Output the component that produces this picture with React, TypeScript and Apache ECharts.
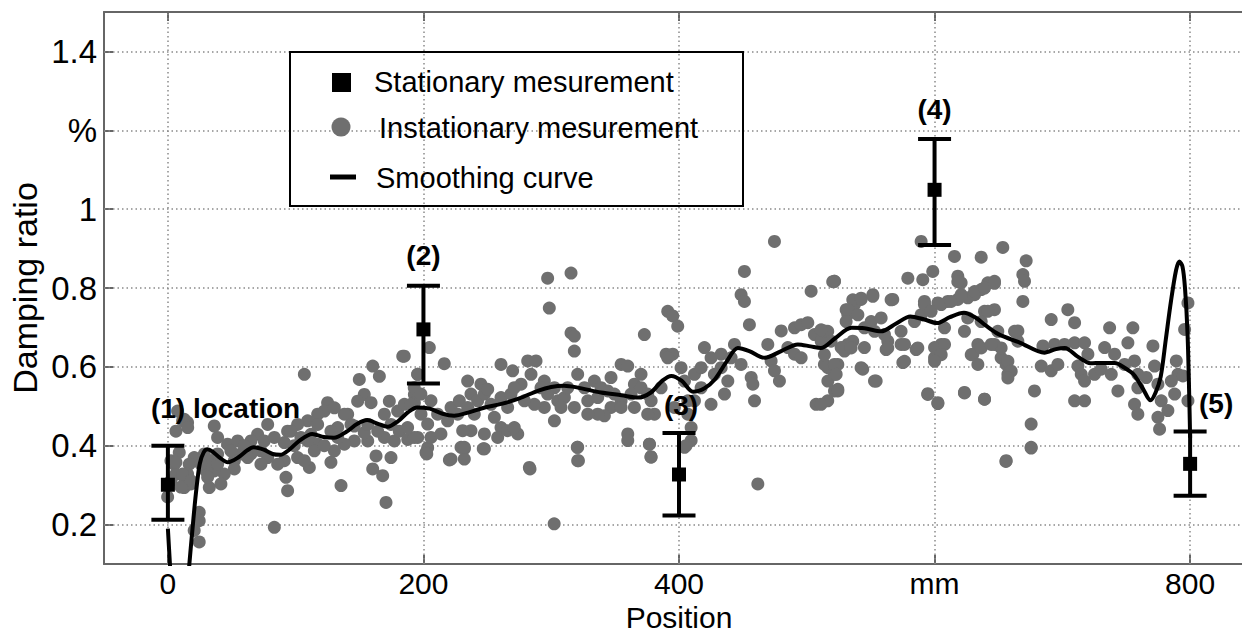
import React, { useEffect, useRef } from 'react';
import * as echarts from 'echarts';

const xTickValues = [0, 200, 400, 600, 800];
const xTickLabels = ['0', '200', '400', 'mm', '800'];
const yTickValues = [0.2, 0.4, 0.6, 0.8, 1.0, 1.2, 1.4];
const yTickLabels = ['0.2', '0.4', '0.6', '0.8', '1', '%', '1.4'];

const legendLabels = ['Stationary mesurement', 'Instationary mesurement', 'Smoothing curve'];

// Stationary measurements with error bars
const stationX = [0, 200, 400, 600, 800];
const stationMean = [0.301, 0.695, 0.327, 1.049, 0.354];
const stationLow = [0.212, 0.558, 0.223, 0.909, 0.273];
const stationHigh = [0.4, 0.806, 0.432, 1.178, 0.436];
const stationLabels = ['(1) location', '(2)', '(3)', '(4)', '(5)'];

// Instationary measurements [position, damping ratio]
const instationaryPoints: [number, number][] = [
  [183.8,0.627],[160.3,0.602],[165.5,0.576],[106.8,0.581],[149.8,0.568],[195.5,0.581],[153.7,0.530],[159.0,0.509],
  [173.3,0.513],[192.9,0.530],[192.9,0.509],[125.0,0.509],[122.4,0.488],[140.7,0.480],[148.5,0.513],[143.3,0.454],
  [132.9,0.446],[127.6,0.437],[117.2,0.480],[109.4,0.463],[101.5,0.454],[93.7,0.437],[112.0,0.429],[117.2,0.404],
  [109.4,0.412],[114.6,0.387],[127.6,0.358],[110.7,0.345],[135.5,0.299],[92.4,0.320],[93.7,0.286],[160.3,0.341],
  [168.1,0.324],[162.9,0.374],[170.7,0.256],[83.3,0.193],[177.2,0.412],[181.1,0.437],[187.7,0.416],[195.5,0.421],
  [203.3,0.395],[174.6,0.454],[169.4,0.480],[179.8,0.488],[185.1,0.505],[169.4,0.421],[156.4,0.412],[153.7,0.433],
  [145.9,0.412],[138.1,0.404],[132.9,0.421],[130.3,0.387],[122.4,0.400],[98.9,0.400],[91.1,0.408],[78.1,0.454],
  [70.2,0.429],[65.0,0.412],[72.8,0.387],[65.0,0.379],[57.2,0.379],[52.0,0.362],[46.7,0.404],[54.6,0.412],
  [38.9,0.421],[36.3,0.450],[52.0,0.341],[44.1,0.328],[41.5,0.303],[32.4,0.294],[36.3,0.336],[29.8,0.336],
  [33.7,0.362],[28.5,0.379],[20.6,0.370],[16.7,0.353],[12.8,0.320],[12.8,0.294],[18.0,0.303],[15.4,0.328],
  [5.0,0.353],[6.3,0.328],[2.4,0.311],[2.4,0.362],[6.3,0.437],[12.8,0.467],[15.4,0.459],[24.5,0.231],
  [24.5,0.210],[20.6,0.185],[24.5,0.156],[91.1,0.362],[85.9,0.353],[78.1,0.370],[101.5,0.370],[106.8,0.362],
  [38.9,0.353],[49.3,0.387],[59.8,0.400],[75.4,0.412],[83.3,0.421],[96.3,0.437],[117.2,0.454],[138.1,0.480],
  [145.9,0.450],[164.2,0.437],[174.6,0.370],[156.4,0.454],[130.3,0.496],[104.1,0.421],[72.8,0.353],[62.4,0.370],
  [38.9,0.379],[31.1,0.320],[25.9,0.353],[8.9,0.383],[-0.2,0.270],[7.6,0.488],[11.5,0.463],[15.5,0.446],
  [6.3,0.358],[11.5,0.328],[18.1,0.311],[10.2,0.295],
  [185.0,0.627],[204.6,0.649],[216.3,0.608],[195.5,0.581],[192.8,0.547],[205.9,0.514],[190.2,0.505],[198.1,0.480],
  [203.3,0.455],[192.8,0.421],[205.9,0.421],[202.0,0.383],[218.9,0.463],[221.6,0.497],[228.1,0.514],[234.6,0.564],
  [245.0,0.556],[237.2,0.531],[242.4,0.514],[247.7,0.531],[252.9,0.505],[260.7,0.522],[250.3,0.543],[260.7,0.606],
  [269.8,0.590],[281.6,0.615],[288.1,0.615],[284.2,0.581],[276.4,0.556],[268.5,0.531],[265.9,0.497],[255.5,0.472],
  [260.7,0.446],[247.7,0.430],[237.2,0.438],[230.7,0.438],[229.4,0.396],[232.0,0.392],[221.6,0.366],[247.7,0.392],
  [258.1,0.421],[265.9,0.438],[273.8,0.430],[271.1,0.446],[282.9,0.345],[297.2,0.825],[315.5,0.838],[298.5,0.749],
  [315.5,0.686],[318.1,0.678],[318.1,0.640],[294.6,0.564],[302.5,0.547],[297.2,0.531],[305.1,0.514],[310.3,0.522],
  [307.7,0.497],[294.6,0.497],[286.8,0.505],[302.5,0.463],[320.7,0.581],[326.0,0.547],[333.8,0.564],[328.6,0.514],
  [336.4,0.522],[339.0,0.547],[346.8,0.573],[344.2,0.539],[349.4,0.531],[354.7,0.514],[354.7,0.606],[359.9,0.602],
  [365.1,0.556],[370.3,0.547],[362.5,0.531],[346.8,0.497],[341.6,0.476],[354.7,0.497],[336.4,0.480],[359.9,0.430],
  [359.9,0.413],[320.7,0.396],[320.7,0.362],[372.9,0.682],[376.8,0.404],[378.2,0.371],[380.8,0.480],[378.2,0.514],
  [386.0,0.547],[389.9,0.632],[395.1,0.632],[391.2,0.741],[395.1,0.729],[399.0,0.703],[401.6,0.598],[404.3,0.564],
  [406.9,0.514],[406.9,0.480],[409.5,0.446],[409.5,0.413],[404.3,0.396],[412.1,0.581],[417.3,0.547],[425.1,0.505],
  [419.9,0.649],[425.1,0.623],[433.0,0.632],[435.6,0.531],[433.0,0.598],[443.4,0.657],[440.8,0.623],[448.6,0.606],
  [451.2,0.842],[448.6,0.783],[451.2,0.766],[455.1,0.707],[456.5,0.573],[457.8,0.556],[459.1,0.514],[461.7,0.303],
  [469.5,0.657],[472.1,0.615],[474.7,0.590],[478.6,0.564],[474.7,0.918],[480.0,0.691],[485.2,0.649],[490.4,0.699],
  [495.6,0.707],[500.8,0.712],[490.4,0.632],[495.6,0.623],[503.4,0.792],[507.3,0.505],[506.0,0.682],[511.3,0.665],
  [513.9,0.691],[516.5,0.598],[516.5,0.564],[521.7,0.539],[521.7,0.817],[524.3,0.606],[532.1,0.733],[532.1,0.657],
  [529.5,0.640],
  [187.6,0.446],[211.1,0.480],[213.7,0.430],[198.0,0.531],[226.8,0.480],[234.6,0.497],[239.8,0.480],[271.1,0.547],
  [279.0,0.514],[292.0,0.547],[312.9,0.547],[318.1,0.497],[328.6,0.480],[365.1,0.497],[375.5,0.531],[370.3,0.581],
  [375.5,0.480],[391.2,0.623],[396.4,0.497],[412.1,0.514],[417.3,0.598],[427.7,0.581],[438.2,0.564],
  [202.6,0.379],[220.3,0.364],[232.0,0.366],[232.0,0.396],[246.8,0.392],[283.4,0.341],[302.3,0.202],[320.4,0.396],
  [321.3,0.362],[376.9,0.404],[378.0,0.372],[655.8,0.360],[675.6,0.394],[405.5,0.400],
  [589.5,0.918],[615.6,0.880],[636.5,0.878],[653.4,0.903],[671.7,0.869],[669.1,0.834],[670.4,0.817],[669.1,0.766],
  [598.6,0.842],[590.8,0.821],[579.1,0.825],[521.6,0.817],[618.2,0.830],[620.8,0.813],[641.7,0.813],[646.9,0.817],
  [636.5,0.796],[631.3,0.783],[626.0,0.775],[618.2,0.771],[610.4,0.766],[602.6,0.762],[592.1,0.766],[567.3,0.771],
  [551.7,0.783],[542.5,0.771],[537.3,0.758],[530.8,0.745],[639.1,0.741],[646.9,0.745],[691.3,0.720],[704.3,0.745],
  [709.6,0.712],[737.0,0.699],[755.2,0.699],[770.9,0.653],[798.3,0.762],[795.7,0.695],[798.3,0.514],[678.2,0.539],
  [675.6,0.455],[675.6,0.396],[656.1,0.362],[639.1,0.518],[623.4,0.535],[602.6,0.507],[594.7,0.532],[575.2,0.611],
  [554.3,0.564],[543.8,0.594],[524.3,0.539],[516.4,0.514],[511.2,0.505],[521.6,0.581],[513.8,0.606],[526.9,0.649],
  [536.0,0.665],[545.1,0.649],[563.4,0.665],[562.1,0.644],[573.8,0.657],[585.6,0.644],[600.0,0.623],[605.2,0.657],
  [600.0,0.649],[607.8,0.699],[630.0,0.632],[633.9,0.657],[646.9,0.657],[652.1,0.623],[656.1,0.606],[657.4,0.581],
  [665.2,0.691],[665.2,0.665],[683.5,0.602],[691.3,0.590],[696.5,0.606],[684.8,0.653],[693.9,0.657],[701.7,0.657],
  [709.6,0.661],[717.4,0.661],[720.0,0.632],[712.2,0.602],[714.8,0.581],[717.4,0.564],[725.2,0.581],[730.4,0.594],
  [733.1,0.649],[740.9,0.632],[738.3,0.581],[743.5,0.539],[748.7,0.606],[751.3,0.661],[756.5,0.615],[759.1,0.581],
  [759.1,0.547],[756.5,0.505],[759.1,0.480],[765.7,0.573],[772.2,0.602],[774.8,0.556],[777.4,0.514],[774.8,0.472],
  [776.1,0.442],[782.6,0.489],[787.9,0.531],[790.5,0.581],[789.2,0.615],[794.4,0.577],[785.3,0.564],[717.4,0.514],
  [709.6,0.514],
  [520.3,0.816],[536.0,0.770],[542.5,0.774],[551.7,0.779],[566.0,0.770],[532.0,0.745],[540.0,0.732],[530.8,0.715],
  [516.4,0.690],[511.2,0.694],[519.0,0.665],[513.8,0.631],[521.6,0.606],[523.0,0.581],[524.3,0.543],[534.7,0.648],
  [545.1,0.699],[550.4,0.715],[558.2,0.724],[553.0,0.690],[560.8,0.682],[563.4,0.648],[573.8,0.690],[584.3,0.715],
  [589.5,0.732],[592.1,0.758],[597.3,0.741],[605.2,0.758],[613.0,0.766],[620.8,0.783],[631.3,0.791],[639.1,0.800],
  [646.9,0.812],[618.2,0.816],[576.5,0.657],[576.5,0.614],[586.9,0.648],[607.8,0.657],[605.2,0.631],[600.0,0.614],
  [542.5,0.598],[553.0,0.564],[594.7,0.530],[602.6,0.509],[623.4,0.534],[639.1,0.518],[628.7,0.631],[636.5,0.648],
  [633.9,0.606],[623.4,0.690],[636.5,0.715],[626.0,0.724],[641.7,0.741],[649.5,0.690],[652.1,0.648],[657.4,0.614],
  [660.0,0.589],[657.4,0.572],[644.3,0.657],[662.6,0.690]
];

// Smoothing curve [position, damping ratio]
const curvePoints: [number, number][] = [
  [0,0.19],[1.6,0.1],[5,-0.08],[9,-0.15],[13,-0.06],[16.8,0.1],[19,0.18],[21,0.25],[23,0.31],[25,0.355],
  [28,0.383],[31,0.391],[35,0.385],[40,0.371],[47,0.358],[55,0.37],[62,0.388],[67,0.396],[75,0.39],[82,0.379],
  [88,0.377],[95,0.39],[103,0.413],[113,0.43],[122,0.422],[130,0.42],[140,0.436],[148,0.455],[156,0.465],
  [164,0.456],[172,0.448],[180,0.462],[188,0.485],[195,0.497],[205,0.494],[215,0.481],[224,0.476],[235,0.484],
  [248,0.497],[261,0.506],[275,0.52],[290,0.54],[300,0.549],[310,0.552],[320,0.548],[339,0.535],[355,0.528],
  [368,0.522],[378,0.535],[387,0.565],[394,0.577],[402,0.565],[411,0.537],[420,0.546],[428,0.568],[437,0.612],
  [446,0.648],[455,0.64],[467,0.623],[480,0.64],[493,0.657],[503,0.652],[511,0.648],[522,0.672],[535,0.699],
  [545,0.698],[558,0.69],[570,0.71],[581,0.728],[592,0.72],[602,0.711],[612,0.726],[623,0.737],[632,0.725],
  [640,0.705],[650,0.683],[667,0.661],[686,0.636],[695,0.645],[702,0.648],[712,0.626],[722,0.609],[731,0.61],
  [741,0.61],[749,0.597],[756,0.58],[763,0.545],[769,0.515],[773,0.535],[777,0.575],[781,0.67],[785,0.766],
  [789,0.845],[791.6,0.867],[794,0.855],[796,0.8],[798,0.683],[799.5,0.5],[800,0.42]
];

const FONT = '"Liberation Sans", Arial, Helvetica, sans-serif';
const labelOffsets = [
  { dx: -17, dy: -37, align: 'left' },
  { dx: 0, dy: -30, align: 'center' },
  { dx: 2, dy: -28, align: 'center' },
  { dx: 0, dy: -29, align: 'center' },
  { dx: 26, dy: -28, align: 'center' },
];

export default function App() {
  const ref = useRef<HTMLDivElement>(null);
  useEffect(() => {
    if (!ref.current) return;
    const chart = echarts.init(ref.current, undefined, { renderer: 'svg' });
    const axisLineStyle = { color: '#666', width: 2 };
    const xLabel = (v: number) => {
      const i = xTickValues.findIndex((t) => Math.abs(t - v) < 1e-6);
      return i >= 0 ? xTickLabels[i] : '';
    };
    const yLabel = (v: number) => {
      const i = yTickValues.findIndex((t) => Math.abs(t - v) < 1e-6);
      return i >= 0 ? yTickLabels[i] : '';
    };
    chart.setOption({
      animation: false,
      backgroundColor: '#fff',
      grid: { left: 104, top: 12, bottom: 70, right: -12, containLabel: false, outerBoundsMode: 'none' },
      xAxis: [
        {
          type: 'value', min: -50, max: 850, interval: 50, position: 'bottom',
          axisLine: { show: true, onZero: false, lineStyle: axisLineStyle },
          axisTick: { show: true, inside: true, length: 9, customValues: xTickValues, lineStyle: axisLineStyle },
          axisLabel: { customValues: xTickValues, formatter: xLabel, fontSize: 30, lineHeight: 30, color: '#000', fontFamily: FONT, margin: 4 },
          splitLine: { show: false },
          name: 'Position', nameLocation: 'middle', nameGap: 38, nameMoveOverlap: false,
          nameTextStyle: { fontSize: 30, lineHeight: 30, color: '#000', fontFamily: FONT },
        },
        {
          type: 'value', min: -50, max: 850, interval: 50, position: 'top',
          axisLine: { show: true, onZero: false, lineStyle: axisLineStyle },
          axisTick: { show: true, inside: true, length: 9, customValues: xTickValues, lineStyle: axisLineStyle },
          axisLabel: { show: false },
          splitLine: { show: false },
        },
      ],
      yAxis: [
        {
          type: 'value', min: 0.1, max: 1.5, interval: 0.1,
          axisLine: { show: true, onZero: false, lineStyle: axisLineStyle },
          axisTick: { show: true, inside: true, length: 9, customValues: yTickValues, lineStyle: axisLineStyle },
          axisLabel: { customValues: yTickValues, formatter: yLabel, fontSize: 33, color: '#000', fontFamily: FONT, margin: 7 },
          splitLine: { show: false },
          name: 'Damping ratio', nameLocation: 'middle', nameGap: 62, nameRotate: 90, nameMoveOverlap: false,
          nameTextStyle: { fontSize: 34, color: '#000', fontFamily: FONT },
        },
      ],
      series: [
        {
          type: 'line', data: [], z: 1, silent: true,
          markLine: {
            silent: true, z: 1, symbol: ['none', 'none'], label: { show: false },
            lineStyle: { color: '#8a8a8a', width: 1.5, type: [1.5, 3] },
            emphasis: { disabled: true },
            data: [
              ...xTickValues.map((v) => ({ xAxis: v })),
              ...yTickValues.map((v) => ({ yAxis: v })),
            ],
          },
        },
        {
          name: legendLabels[1], type: 'scatter', z: 2, symbol: 'circle', symbolSize: 13,
          itemStyle: { color: '#6f6f6f', opacity: 1 }, data: instationaryPoints, silent: true,
        },
        {
          name: legendLabels[2], type: 'line', z: 3, data: curvePoints, showSymbol: false, smooth: 0.3,
          lineStyle: { color: '#000', width: 4 }, clip: true, silent: true,
        },
        {
          name: legendLabels[0], type: 'custom', z: 4, silent: true,
          data: stationX.map((x, i) => [x, stationLow[i], stationMean[i], stationHigh[i]]),
          encode: { x: 0, y: [1, 2, 3] },
          renderItem: (params: any, api: any) => {
            const i = params.dataIndex;
            const x = api.value(0);
            const pLo = api.coord([x, api.value(1)]);
            const pMid = api.coord([x, api.value(2)]);
            const pHi = api.coord([x, api.value(3)]);
            const cap = 16.5;
            const st = { stroke: '#000', lineWidth: 4 };
            const off = labelOffsets[i];
            return {
              type: 'group',
              children: [
                { type: 'line', shape: { x1: pLo[0], y1: pLo[1], x2: pHi[0], y2: pHi[1] }, style: st },
                { type: 'line', shape: { x1: pLo[0] - cap, y1: pLo[1], x2: pLo[0] + cap, y2: pLo[1] }, style: st },
                { type: 'line', shape: { x1: pHi[0] - cap, y1: pHi[1], x2: pHi[0] + cap, y2: pHi[1] }, style: st },
                { type: 'rect', shape: { x: pMid[0] - 7, y: pMid[1] - 7, width: 14, height: 14 }, style: { fill: '#000' } },
                {
                  type: 'text', x: pHi[0] + off.dx, y: pHi[1] + off.dy,
                  style: { text: stationLabels[i], font: `bold 28px ${FONT}`, fill: '#000', align: off.align, verticalAlign: 'middle' },
                },
              ],
            };
          },
        },
      ],
      graphic: [
        { type: 'rect', shape: { x: 290, y: 52, width: 453, height: 154 }, style: { fill: 'none', stroke: '#000', lineWidth: 2 }, z: 10 },
        { type: 'rect', shape: { x: 332, y: 73, width: 19, height: 19 }, style: { fill: '#000' }, z: 10 },
        { type: 'circle', shape: { cx: 341, cy: 127, r: 9.5 }, style: { fill: '#6f6f6f' }, z: 10 },
        { type: 'line', shape: { x1: 330, y1: 177, x2: 356, y2: 177 }, style: { stroke: '#000', lineWidth: 5 }, z: 10 },
        { type: 'text', x: 374, y: 82, style: { text: legendLabels[0], font: `29px ${FONT}`, fill: '#000', verticalAlign: 'middle' }, z: 10 },
        { type: 'text', x: 379, y: 128, style: { text: legendLabels[1], font: `29px ${FONT}`, fill: '#000', verticalAlign: 'middle' }, z: 10 },
        { type: 'text', x: 376, y: 178, style: { text: legendLabels[2], font: `29px ${FONT}`, fill: '#000', verticalAlign: 'middle' }, z: 10 },
      ],
    });
    return () => chart.dispose();
  }, []);
  return <div ref={ref} style={{ position: 'fixed', left: 0, top: 0, width: 1242, height: 634 }} />;
}
